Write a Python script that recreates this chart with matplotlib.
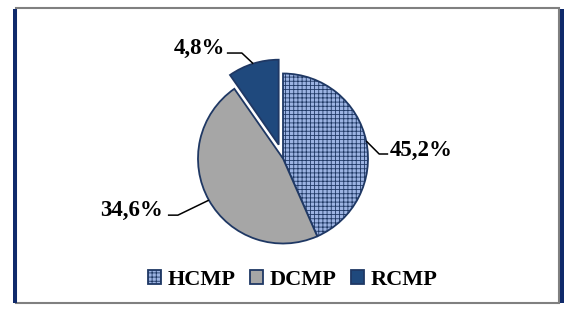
import matplotlib
matplotlib.use('Agg')
import matplotlib.pyplot as plt
from matplotlib.patches import Rectangle
import numpy as np

# slice sizes as drawn in the picture, and the printed labels
categories = ['HCMP', 'DCMP', 'RCMP']
shares = [43.4, 46.9, 9.7]
pct_labels = ['45,2%', '34,6%', '4,8%']

colors = ['#9cb3e2', '#a6a6a6', '#1f497d']
edge = '#1f3864'

plt.rcParams['hatch.linewidth'] = 0.6
plt.rcParams['font.family'] = ['Liberation Serif', 'DejaVu Serif']

W, H = 572, 316
fig = plt.figure(figsize=(W / 100, H / 100), dpi=100)
fig.patch.set_facecolor('white')

# pie centre and radius in pixels
cx, cy, R = 283, 158.5, 85

def to_data(px, py):
    return (px - cx) / R, (cy - py) / R

ax = fig.add_axes([0, 0, 1, 1])

wedges, _ = ax.pie(shares, startangle=90, counterclock=False,
                   explode=[0, 0, 0.17], colors=colors,
                   wedgeprops=dict(edgecolor=edge, linewidth=1.3))
wedges[0].set_hatch('++++')

ax.set_aspect('auto')
ax.set_xlim(-cx / R, (W - cx) / R)
ax.set_ylim((cy - H) / R, cy / R)
ax.axis('off')

# leader lines from the middle of each wedge edge, then text
elbows = [(13, 13, 9), (-31, 15, -10), (-11.3, -10.6, -15)]
text_pos = [(390, 155.5, 'left'), (163, 215.5, 'right'), (225, 53.5, 'right')]
for w, lab, (ex, ey, hx), (tx, ty, ha) in zip(wedges, pct_labels, elbows, text_pos):
    mid = np.deg2rad((w.theta1 + w.theta2) / 2)
    x0 = w.center[0] + w.r * np.cos(mid)
    y0 = w.center[1] + w.r * np.sin(mid)
    x1, y1 = x0 + ex / R, y0 - ey / R
    x2 = x1 + hx / R
    ax.plot([x0, x1, x2], [y0, y1, y1], color='black', lw=1.1,
            solid_capstyle='butt')
    dx, dy = to_data(tx, ty)
    ax.text(dx, dy, lab, ha=ha, va='baseline', fontsize=16.5,
            fontweight='bold', color='black')

leg = fig.legend(wedges, categories, loc='center', ncol=3,
                 bbox_to_anchor=(293 / W, 1 - 280 / H), frameon=False,
                 prop=dict(weight='bold', size=16),
                 handlelength=0.58, handleheight=0.58, handletextpad=0.3,
                 columnspacing=0.65, borderpad=0)

# outer frame: gray box with navy side bands
fig.add_artist(Rectangle((16 / W, 1 - 303 / H), 543 / W, 295 / H,
                         transform=fig.transFigure, fill=False,
                         edgecolor='#808080', lw=1.5))
for bx in (13, 560):
    fig.add_artist(Rectangle((bx / W, 1 - 303 / H), 3.5 / W, 294 / H,
                             transform=fig.transFigure,
                             facecolor='#102a6b', edgecolor='none'))

fig.savefig('out.png', dpi=100)
